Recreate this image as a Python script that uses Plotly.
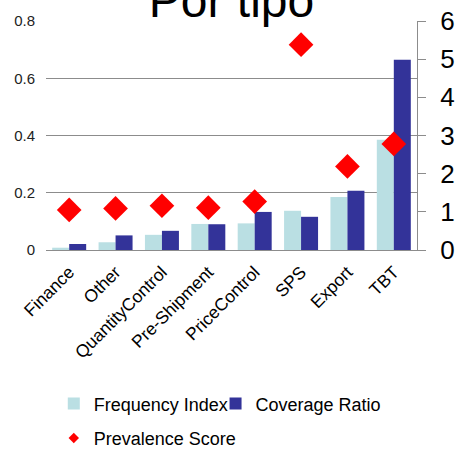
import plotly.graph_objects as go

categories = ["Finance", "Other", "QuantityControl", "Pre-Shipment",
              "PriceControl", "SPS", "Export", "TBT"]
frequency_index = [0.008, 0.027, 0.053, 0.091, 0.093, 0.137, 0.185, 0.385]
coverage_ratio = [0.021, 0.051, 0.067, 0.090, 0.133, 0.116, 0.207, 0.665]
prevalence_score = [1.05, 1.09, 1.16, 1.11, 1.27, 5.38, 2.19, 2.78]

FONT = "Liberation Sans, Arial, sans-serif"
GRID = "#8c8c8c"

fig = go.Figure()
fig.add_trace(go.Bar(x=categories, y=frequency_index, name="Frequency Index",
                     marker=dict(color="#BADFE3", line=dict(width=0)), legend="legend"))
fig.add_trace(go.Bar(x=categories, y=coverage_ratio, name="Coverage Ratio",
                     marker=dict(color="#333399", line=dict(width=0)), legend="legend3"))
fig.add_trace(go.Scatter(x=categories, y=prevalence_score, name="Prevalence Score",
                         mode="markers", yaxis="y2", showlegend=False,
                         marker=dict(symbol="diamond", size=19, color="#FF0000",
                                     line=dict(width=0))))
# legend entry for the diamond (small symbol, as in the reference)
fig.add_trace(go.Scatter(x=[None], y=[None], name="Prevalence Score",
                         mode="markers", yaxis="y2", legend="legend2",
                         marker=dict(symbol="diamond", size=8, color="#FF0000")))

leg_common = dict(orientation="h", xanchor="left", yanchor="middle",
                  font=dict(size=18, family=FONT), bgcolor="rgba(0,0,0,0)",
                  itemsizing="trace")

fig.update_layout(
    width=457, height=449,
    margin=dict(l=46, r=40, t=21, b=199, autoexpand=False),
    paper_bgcolor="white", plot_bgcolor="white",
    font=dict(family=FONT, color="#000000"),
    title=dict(text="Por tipo", font=dict(size=48, color="#000000", family=FONT),
               x=0.5, xanchor="center", xref="paper",
               y=1, yanchor="middle", yref="container"),
    barmode="group", bargap=0.267, bargroupgap=0,
    xaxis=dict(tickangle=-45, tickfont=dict(size=17.5, color="#000000"),
               range=[-0.5, len(categories) - 0.5], autorange=False,
               showline=True, linecolor=GRID, linewidth=1,
               ticks="", showgrid=False, automargin=False, ticklabelstandoff=4),
    yaxis=dict(range=[0, 0.8], dtick=0.2, tickfont=dict(size=15, color="#222222"),
               showgrid=True, gridcolor=GRID, gridwidth=1, zeroline=False,
               showline=False, ticks="", tickformat="~g", automargin=False,
               ticklabelstandoff=10),
    yaxis2=dict(range=[0, 6], dtick=1, overlaying="y", side="right",
                tickfont=dict(size=26, color="#000000"),
                showgrid=False, zeroline=False, showline=True, linecolor=GRID,
                linewidth=1, ticks="outside", ticklen=8, tickcolor=GRID,
                automargin=False, ticklabelstandoff=9),
    legend=dict(x=0.021, y=-0.672, **leg_common),
    legend3=dict(x=0.457, y=-0.672, **leg_common),
    legend2=dict(x=0.021, y=-0.822, **leg_common),
)

fig.write_html("out.html", config={"displayModeBar": False},
               post_script="document.body.style.margin='0';"
                           "document.documentElement.style.overflow='hidden';")
